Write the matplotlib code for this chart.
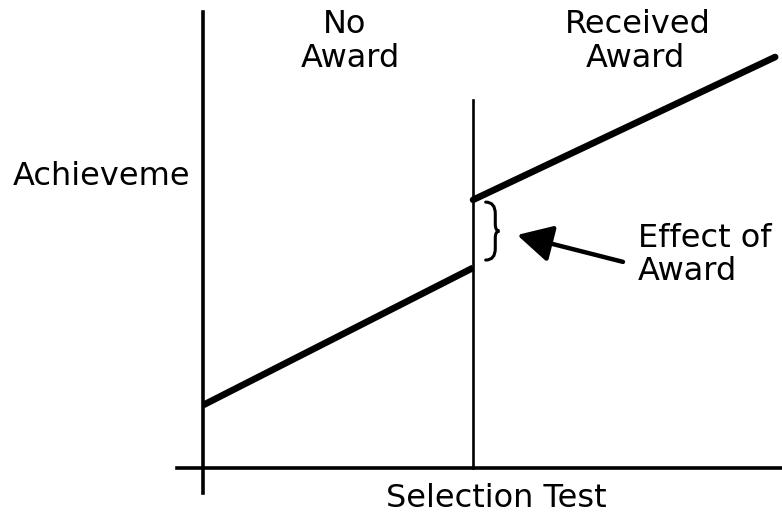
import matplotlib
matplotlib.use("Agg")
import matplotlib.pyplot as plt
from matplotlib.path import Path
import matplotlib.patches as mpatches

# ── Data (selection score 0-100, achievement 0-100) ───────────────
cutoff = 47.2
below_x = [0, cutoff]
below_y = [13.8, 43.9]
above_x = [cutoff, 100]
above_y = [58.8, 90.1]

region_labels = ["No\nAward", "Received\nAward"]
x_label = "Selection Test"
y_label = "Achieveme"
effect_label = "Effect of\nAward"

plt.rcParams["font.family"] = ["DejaVu Sans"]
FS = 23

fig = plt.figure(figsize=(7.82, 5.16), dpi=100)
ax = fig.add_axes([0, 0, 1, 1])
ax.set_xlim(-35.5, 101.2)
ax.set_ylim(-10.5, 102.6)
ax.axis("off")

# ── Axes and cutoff ──────────────────────────────────────────────
ax.plot([0, 0], [-5.5, 100], color="black", lw=2.6)
ax.plot([-4.5, 101.2], [0, 0], color="black", lw=2.6)
ax.plot([cutoff, cutoff], [0, 80.7], color="black", lw=1.9)

# ── Regression lines ──────────────────────────────────────────────
ax.plot(below_x, below_y, color="black", lw=4.8, solid_capstyle="butt")
ax.plot(above_x, above_y, color="black", lw=4.8, solid_capstyle="round")

# ── Brace over the gap ────────────────────────────────────────────
def brace(x, y_bot, y_top, w):
    ym = (y_bot + y_top) / 2
    h = y_top - y_bot
    verts = [
        (x, y_top), (x + w * 0.7, y_top), (x + w * 0.7, y_top - h * 0.2),
        (x + w * 0.7, ym + h * 0.12),
        (x + w * 0.7, ym), (x + w, ym),
        (x + w * 0.7, ym), (x + w * 0.7, ym - h * 0.12),
        (x + w * 0.7, y_bot + h * 0.2),
        (x + w * 0.7, y_bot), (x, y_bot),
    ]
    codes = [Path.MOVETO, Path.CURVE3, Path.CURVE3, Path.LINETO,
             Path.CURVE3, Path.CURVE3, Path.CURVE3, Path.CURVE3,
             Path.LINETO, Path.CURVE3, Path.CURVE3]
    return mpatches.PathPatch(Path(verts, codes), fill=False, lw=2.2,
                              color="black", capstyle="round")

ax.add_patch(brace(49.4, 45.6, above_y[0] - 0.5, 2.4))

# ── Arrow and labels ──────────────────────────────────────────────
ax.annotate("", xy=(54.9, 51.1), xytext=(73.4, 45.2),
            arrowprops=dict(arrowstyle="-|>,head_length=0.85,head_width=0.45",
                            lw=3.2, color="black", mutation_scale=25,
                            shrinkA=0, shrinkB=0))

eff = effect_label.split("\n")
ax.text(76.0, 48.5, eff[0], fontsize=FS, ha="left", va="baseline")
ax.text(76.0, 41.2, eff[1], fontsize=FS, ha="left", va="baseline")

no_lines = region_labels[0].split("\n")
ax.text(24.8, 95.3, no_lines[0], fontsize=FS, ha="center", va="baseline")
ax.text(25.7, 88.0, no_lines[1], fontsize=FS, ha="center", va="baseline")
rec_lines = region_labels[1].split("\n")
ax.text(76.0, 95.3, rec_lines[0], fontsize=FS, ha="center", va="baseline")
ax.text(75.5, 88.0, rec_lines[1], fontsize=FS, ha="center", va="baseline")

ax.text(-33.2, 62.1, y_label, fontsize=FS, ha="left", va="baseline")
ax.text(51.2, -8.6, x_label, fontsize=FS, ha="center", va="baseline")

fig.savefig("out.png", dpi=100)
